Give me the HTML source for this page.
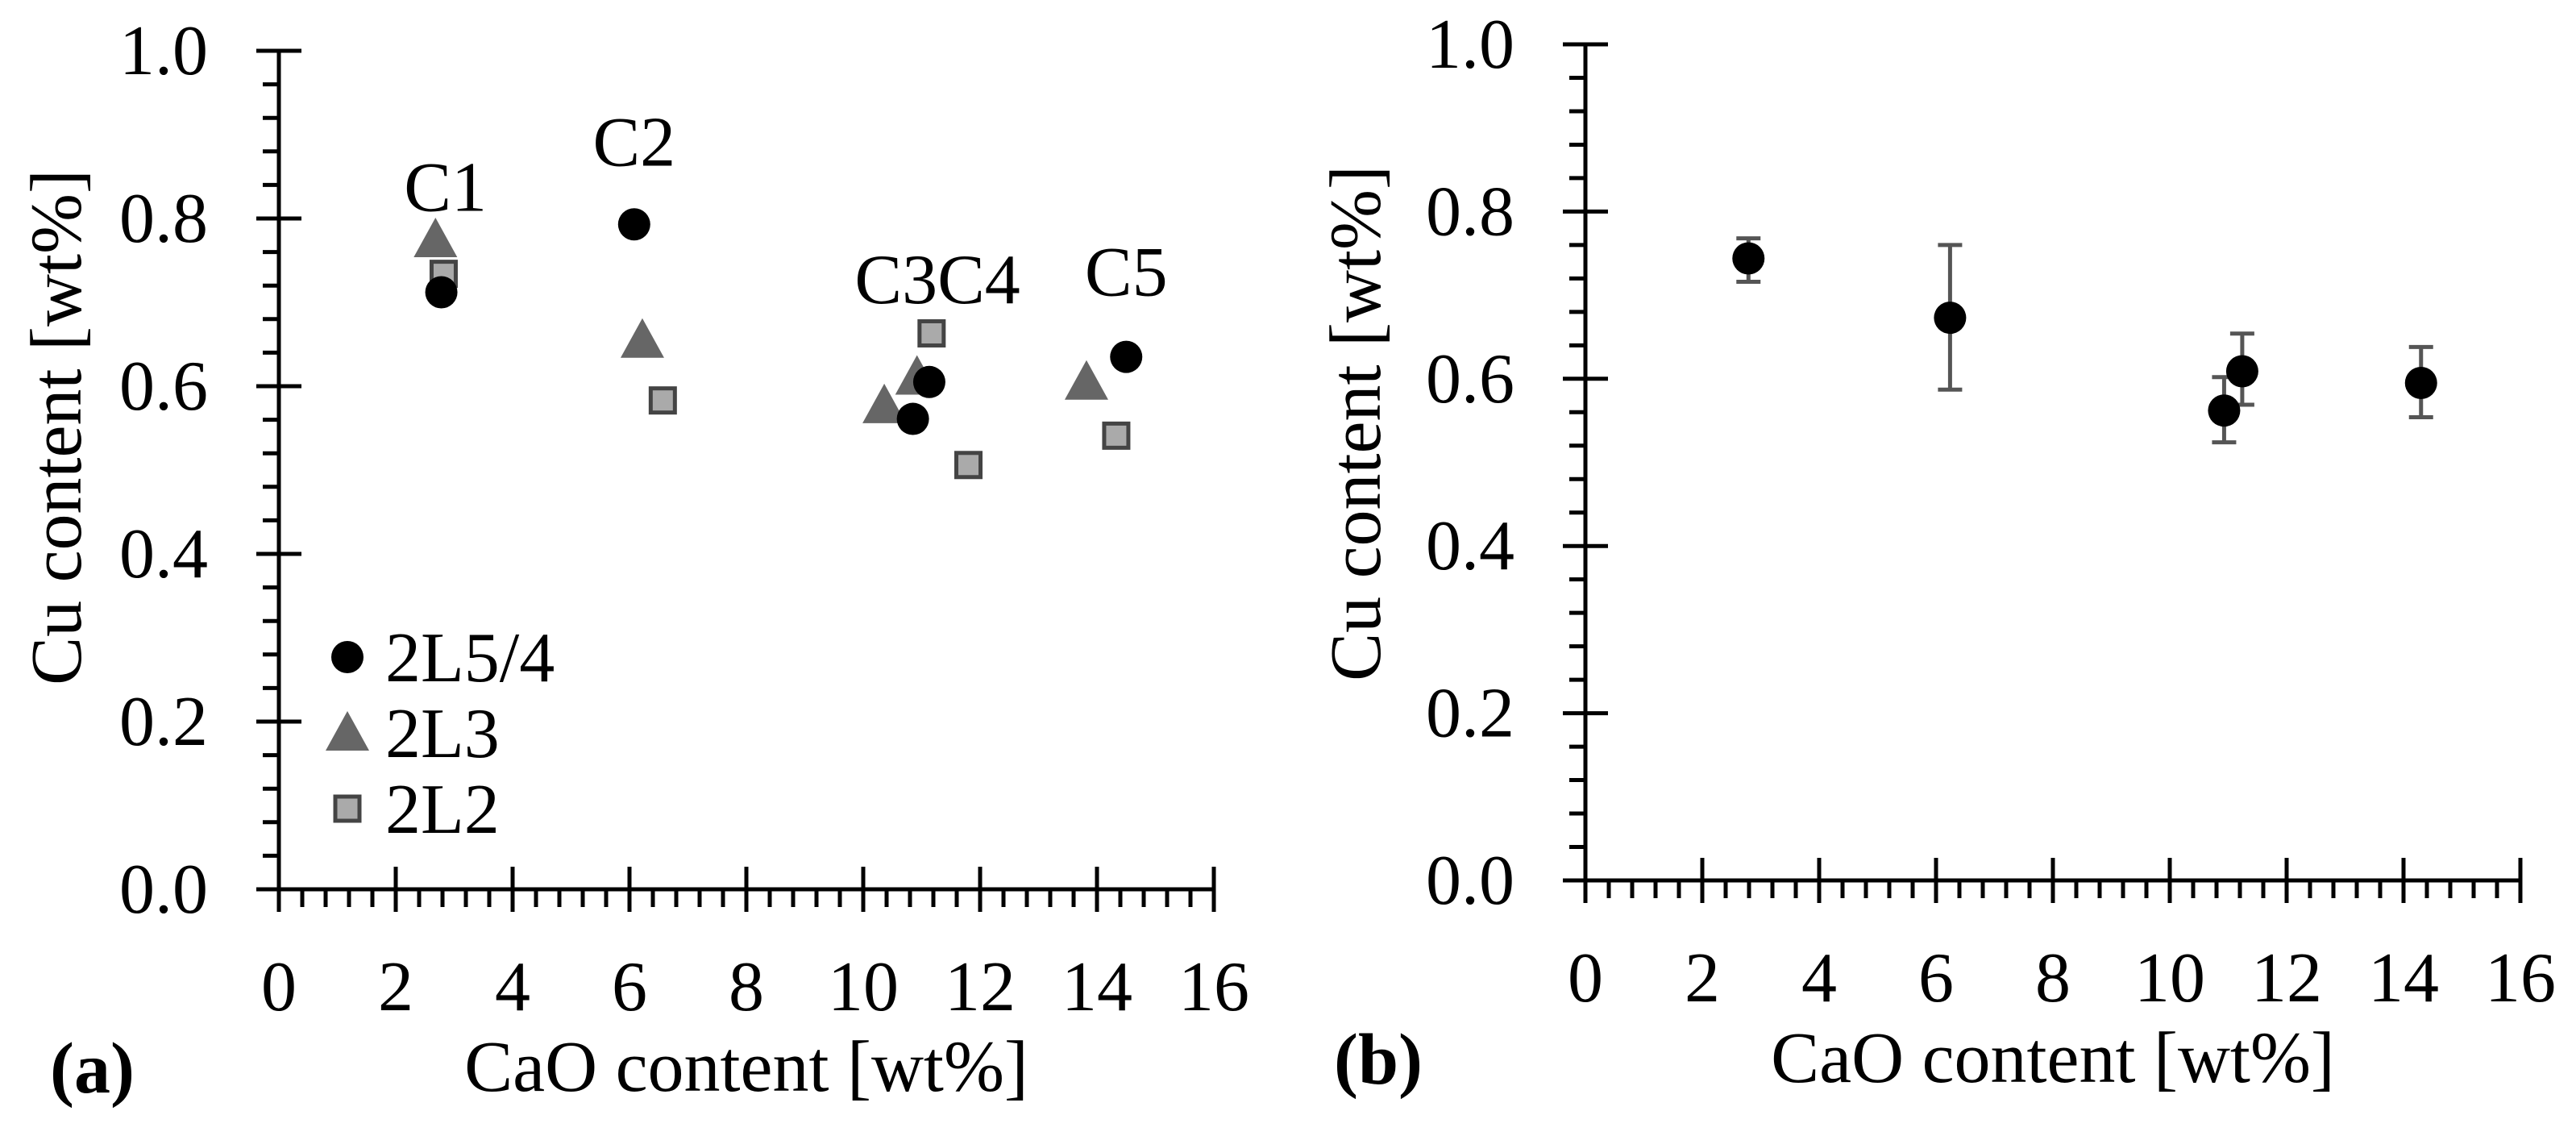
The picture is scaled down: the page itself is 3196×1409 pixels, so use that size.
<!DOCTYPE html>
<html><head><meta charset="utf-8"><style>
html,body{margin:0;padding:0;background:#fff;}
svg{display:block;}
svg text{font-family:"Liberation Serif","DejaVu Serif",serif;}
</style></head><body>
<svg id="fig" width="3196" height="1409" viewBox="0 0 3196 1409" xmlns="http://www.w3.org/2000/svg" font-family="Liberation Serif, serif"></svg>
<script>
const xTicks=[0,2,4,6,8,10,12,14,16];
const yTicks=[0.0,0.2,0.4,0.6,0.8,1.0];
const circX=[2.78,6.08,10.85,11.13,14.5];
const circY=[0.712,0.793,0.561,0.605,0.635];
const triX=[2.68,6.22,10.36,10.92,13.82];
const triY=[0.775,0.655,0.577,0.611,0.605];
const sqX=[2.82,6.57,11.17,11.8,14.33];
const sqY=[0.734,0.583,0.663,0.506,0.541];
const lblText=["C1","C2","C3C4","C5"];
const lblX=[2.85,6.08,11.27,14.5];
const lblY=[0.838,0.892,0.728,0.737];
const avgX=[2.79,6.24,10.93,11.24,14.3];
const avgY=[0.744,0.673,0.562,0.609,0.595];
const errHi=[0.768,0.76,0.602,0.654,0.638];
const errLo=[0.716,0.587,0.524,0.569,0.554];

const NS="http://www.w3.org/2000/svg";
const svg=document.getElementById('fig');
const FF='"Liberation Serif", serif';
function mk(tag,attrs,parent,text){const e=document.createElementNS(NS,tag);for(const k in attrs)e.setAttribute(k,attrs[k]);if(text!==undefined){e.textContent=text;e.setAttribute('font-family',FF);e.style.fontFamily=FF;}(parent||svg).appendChild(e);return e;}

function panel(p){
  const g=mk('g',{});
  
  
  const sx=v=>p.x0+(v/16)*(p.x1-p.x0);
  const sy=v=>p.y0-(v/1.0)*(p.y0-p.y1);
  p.sx=sx;p.sy=sy;
  for(let i=0;i<=25;i++){const v=i*0.04;const y=sy(v);
    const t=mk('line',{x1:p.x0-(i%5===0?28:20),x2:p.x0+(i%5===0?28:0),y1:y,y2:y,stroke:'#000','stroke-width':5},g);
    }
  for(let i=0;i<=40;i++){const v=i*0.4;const x=sx(v);
    const t=mk('line',{x1:x,x2:x,y1:p.y0+(i%5===0?28:22),y2:p.y0-(i%5===0?28:0),stroke:'#000','stroke-width':5},g);
    }
  const ya=mk('line',{x1:p.x0,x2:p.x0,y1:sy(0)+2,y2:sy(1)-2,stroke:'#000','stroke-width':5},g);
  
  const xa=mk('line',{x1:p.x0-2,x2:p.x1+2,y1:p.y0,y2:p.y0,stroke:'#000','stroke-width':5},g);
  
  yTicks.forEach(v=>{const t=mk('text',{x:p.x0-88,y:sy(v)+29,'text-anchor':'end','font-size':88},g,v.toFixed(1));
    });
  xTicks.forEach(v=>{const t=mk('text',{x:sx(v),y:p.y0+150,'text-anchor':'middle','font-size':88},g,String(v));
    });
  const xt=mk('text',{x:(p.x0+p.x1)/2,y:p.y0+250,'text-anchor':'middle','font-size':90},g,'CaO content [wt%]');
  
  const yt=mk('text',{x:0,y:0,'text-anchor':'middle','font-size':90,transform:`translate(${p.ylx},${p.yly}) rotate(-90)`},g,'Cu content [wt%]');
  
  const pl=mk('text',{x:p.plx,y:p.y0+252,'font-size':90,'font-weight':'bold'},g,p.label);
  
  return g;
}

function circle(g,x,y){const c=mk('circle',{cx:x,cy:y,r:20,fill:'#000'},g);
  return c;}
function tri(g,x,y){const c=mk('polygon',{points:`${x},${y-27} ${x-27},${y+22} ${x+27},${y+22}`,fill:'#666'},g);
  return c;}
function sq(g,x,y){const c=mk('rect',{x:x-15,y:y-15,width:30,height:30,fill:'#aaa',stroke:'#444','stroke-width':5},g);
  return c;}

const A={name:'panel-a',x0:346,x1:1506,y0:1103,y1:63,ylx:100,yly:530,plx:62,label:'(a)'};
const ga=panel(A);
triX.forEach((v,i)=>tri(ga,A.sx(v),A.sy(triY[i])));
sqX.forEach((v,i)=>sq(ga,A.sx(v),A.sy(sqY[i])));
circX.forEach((v,i)=>circle(ga,A.sx(v),A.sy(circY[i])));
lblText.forEach((s,i)=>{const t=mk('text',{x:A.sx(lblX[i]),y:A.sy(lblY[i])+30,'text-anchor':'middle','font-size':88},ga,s);
  });
const leg=mk('g',{},ga);


circle(leg,431,815);tri(leg,431,909);sq(leg,431,1003);
['2L5/4','2L3','2L2'].forEach((s,i)=>{const t=mk('text',{x:478,y:815+i*94+30,'font-size':88},leg,s);
  });

const B={name:'panel-b',x0:1967,x1:3127,y0:1092,y1:55,ylx:1712,yly:525,plx:1655,label:'(b)'};
const gb=panel(B);
avgX.forEach((v,i)=>{const x=B.sx(v);
  const e=mk('path',{d:`M${x},${B.sy(errLo[i])}V${B.sy(errHi[i])}M${x-15},${B.sy(errLo[i])}H${x+15}M${x-15},${B.sy(errHi[i])}H${x+15}`,stroke:'#555','stroke-width':5,fill:'none'},gb);
  });
avgX.forEach((v,i)=>circle(gb,B.sx(v),B.sy(avgY[i])));
</script>
</body></html>
